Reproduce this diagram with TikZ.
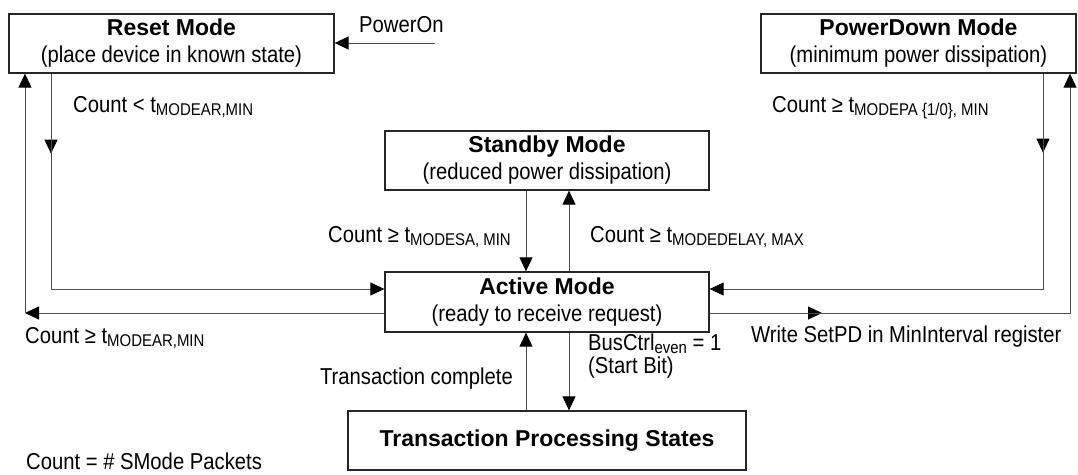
\documentclass[tikz,border=0pt]{standalone}
\usepackage{fontspec}
\setmainfont{Liberation Sans}
\newfontfamily\narrowfont[FakeStretch=0.88]{Liberation Sans}
\usetikzlibrary{arrows.meta}
% lowered, smaller index text for the timing parameters
\newcommand\lowsub[1]{\raisebox{-3.5pt}{\fontsize{17}{17}\selectfont #1}}

\begin{document}
\begin{tikzpicture}[x=1pt,y=-1pt,
  state/.style={draw=black!85, line width=1.3pt, inner sep=0pt, align=center,
    font=\fontsize{23}{27}\selectfont},
  conn/.style={draw=black!70, line width=0.9pt},
  tip/.style={-{Triangle[length=14pt,width=13pt,color=black]}},
  lbl/.style={inner sep=0pt, font=\narrowfont\fontsize{23}{27}\selectfont}]
\useasboundingbox (0,0) rectangle (1078,474);

% states
\node[state, minimum width=325pt, minimum height=59pt] (reset) at (171.5,43.5)
  {\textbf{Reset Mode}\\{\narrowfont (place device in known state)}};
\node[state, minimum width=315pt, minimum height=59pt] (pdown) at (918.5,43.5)
  {\textbf{PowerDown Mode}\\{\narrowfont (minimum power dissipation)}};
\node[state, minimum width=324pt, minimum height=59pt] (standby) at (547,160.5)
  {\textbf{Standby Mode}\\{\narrowfont (reduced power dissipation)}};
\node[state, minimum width=324pt, minimum height=60pt] (active) at (547,302)
  {\textbf{Active Mode}\\{\narrowfont (ready to receive request)}};
\node[state, minimum width=398pt, minimum height=59pt] (trans) at (547,440.5)
  {\textbf{Transaction Processing States}};

% routing corners
\coordinate (pon) at (435,43);
\coordinate (rA) at (51,289);
\coordinate (rB) at (25,313);
\coordinate (pA) at (1043,289);
\coordinate (pB) at (1070,313);
\coordinate (pBmid) at (822,313);
\coordinate (cl) at (526,0);
\coordinate (cr) at (569,0);

% power-on entry
\draw[conn,tip] (pon) -- (reset.east |- pon);

% Reset -> Active
\draw[conn,tip] (reset.south -| rA) -- ++(0,80);
\draw[conn,tip] (reset.south -| rA) -- (rA) -- (active.west |- rA);
% Active -> Reset
\draw[conn,tip] (active.west |- rB) -- (rB);
\draw[conn,tip] (rB) -- (reset.south -| rB);

% PowerDown -> Active
\draw[conn,tip] (pdown.south -| pA) -- ++(0,79);
\draw[conn,tip] (pdown.south -| pA) -- (pA) -- (active.east |- pA);
% Active -> PowerDown
\draw[conn,tip] (active.east |- pB) -- (pBmid);
\draw[conn,tip] (active.east |- pB) -- (pB) -- (pdown.south -| pB);

% Standby <-> Active
\draw[conn,tip] (standby.south -| cl) -- (active.north -| cl);
\draw[conn,tip] (active.north -| cr) -- (standby.south -| cr);

% Active <-> Transaction processing
\draw[conn,tip] (active.south -| cr) -- (trans.north -| cr);
\draw[conn,tip] (trans.north -| cl) -- (active.south -| cl);

% transition conditions
\node[lbl, anchor=base west] (lpon) at (359,32) {PowerOn};
\node[lbl, anchor=base west] (lra) at (73,112) {Count < t\lowsub{MODEAR,MIN}};
\node[lbl, anchor=base west] (lpa) at (772,112) {Count ≥ t\lowsub{MODEPA {\{}1/0{\}}, MIN}};
\node[lbl, anchor=base east] (lsa) at (511,242) {Count ≥ t\lowsub{MODESA, MIN}};
\node[lbl, anchor=base west] (las) at (590,242) {Count ≥ t\lowsub{MODEDELAY, MAX}};
\node[lbl, anchor=base west] (lar) at (25,343) {Count ≥ t\lowsub{MODEAR,MIN}};
\node[lbl, anchor=base west] (lap) at (751,342) {Write SetPD in MinInterval register};
\node[lbl, anchor=base west] (lat) at (588,350) {BusCtrl\lowsub{even} = 1};
\node[lbl, anchor=base west] (lsb) at (588,373) {(Start Bit)};
\node[lbl, anchor=base east] (lta) at (513,384) {Transaction complete};
\node[lbl, anchor=base west] (lnote) at (26,469) {Count = \# SMode Packets};
\end{tikzpicture}
\end{document}
